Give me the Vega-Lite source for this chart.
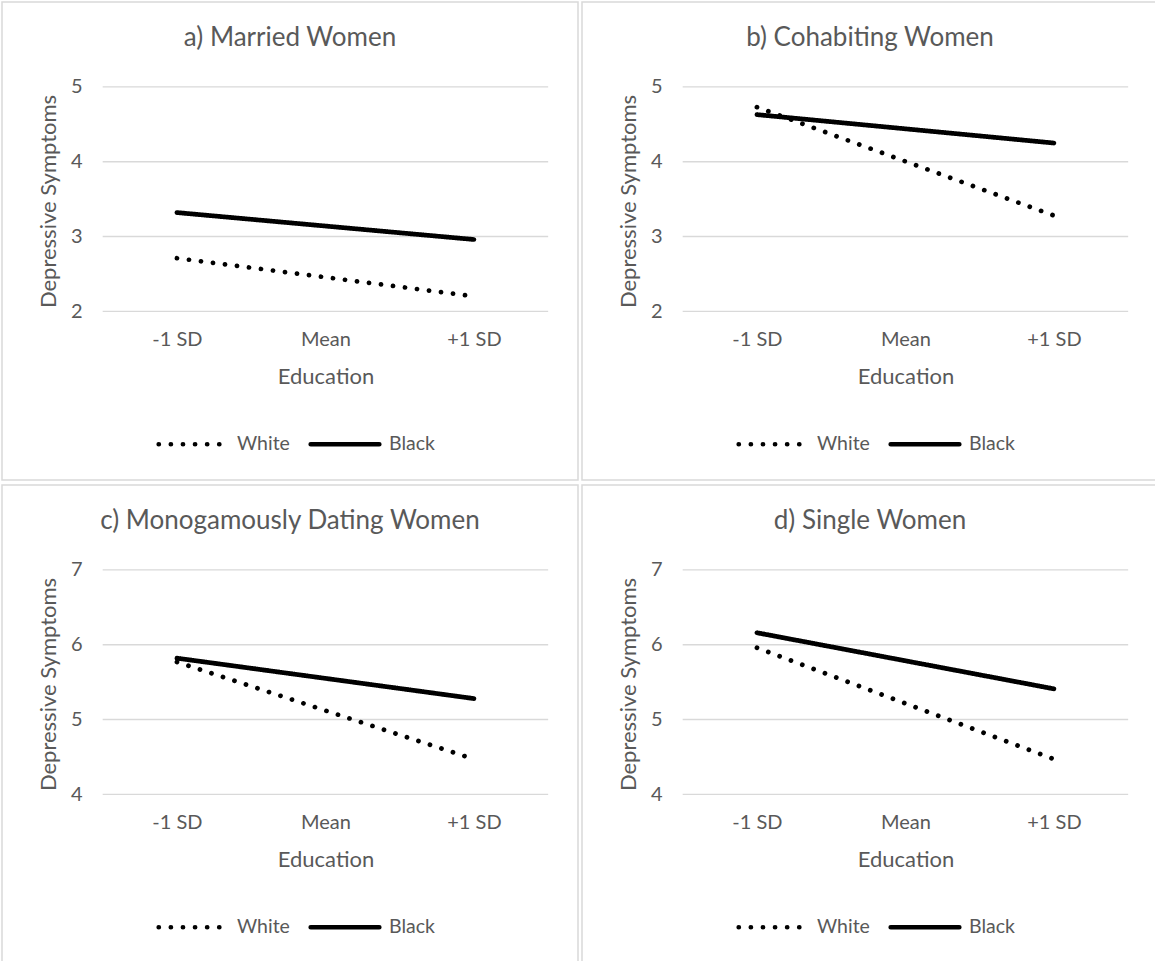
{
  "$schema": "https://vega.github.io/schema/vega-lite/v6.json",
  "background": "white",
  "padding": {"left": 1, "top": 1, "right": 0, "bottom": 0},
  "datasets": {
    "lines": [
      {"panel": "a", "edu": -1, "race": "White", "value": 2.71},
      {"panel": "a", "edu": 1, "race": "White", "value": 2.2},
      {"panel": "a", "edu": -1, "race": "Black", "value": 3.32},
      {"panel": "a", "edu": 1, "race": "Black", "value": 2.96},
      {"panel": "b", "edu": -1, "race": "White", "value": 4.73},
      {"panel": "b", "edu": 1, "race": "White", "value": 3.28},
      {"panel": "b", "edu": -1, "race": "Black", "value": 4.63},
      {"panel": "b", "edu": 1, "race": "Black", "value": 4.25},
      {"panel": "c", "edu": -1, "race": "White", "value": 5.77},
      {"panel": "c", "edu": 1, "race": "White", "value": 4.47},
      {"panel": "c", "edu": -1, "race": "Black", "value": 5.82},
      {"panel": "c", "edu": 1, "race": "Black", "value": 5.28},
      {"panel": "d", "edu": -1, "race": "White", "value": 5.96},
      {"panel": "d", "edu": 1, "race": "White", "value": 4.47},
      {"panel": "d", "edu": -1, "race": "Black", "value": 6.16},
      {"panel": "d", "edu": 1, "race": "Black", "value": 5.41}
    ],
    "grid": [
      {"panel": "a", "v": 2}, {"panel": "a", "v": 3}, {"panel": "a", "v": 4}, {"panel": "a", "v": 5},
      {"panel": "b", "v": 2}, {"panel": "b", "v": 3}, {"panel": "b", "v": 4}, {"panel": "b", "v": 5},
      {"panel": "c", "v": 4}, {"panel": "c", "v": 5}, {"panel": "c", "v": 6}, {"panel": "c", "v": 7},
      {"panel": "d", "v": 4}, {"panel": "d", "v": 5}, {"panel": "d", "v": 6}, {"panel": "d", "v": 7}
    ]
  },
  "spacing": 3,
  "resolve": {"scale": {"strokeDash": "independent", "y": "independent", "x": "independent"}, "legend": {"strokeDash": "independent"}},
  "vconcat": [
    {
      "spacing": 2,
      "resolve": {"scale": {"strokeDash": "independent", "y": "independent", "x": "independent"}, "legend": {"strokeDash": "independent"}},
      "hconcat": [
        {
          "title": "a) Married Women",
          "width": 576,
          "height": 478,
          "layer": [
            {
              "data": {"name": "grid"},
              "transform": [{"filter": "datum.panel == 'a'"}],
              "mark": {"type": "rule", "color": "#d9d9d9", "strokeWidth": 1.3},
              "encoding": {
                "x": {"datum": -1.5, "type": "quantitative", "title": "Education",
                      "scale": {"domain": [-2.178, 1.701], "nice": false, "zero": false},
                      "axis": {"orient": "bottom", "offset": -168, "values": [-1, 0, 1], "labelExpr": "datum.value == -1 ? '-1 SD' : datum.value == 0 ? 'Mean' : '+1 SD'", "labelPadding": 17, "titleX": 323.5, "titleY": 64, "titleAlign": "center", "titleBaseline": "middle"}},
                "x2": {"datum": 1.5},
                "y": {"field": "v", "type": "quantitative", "title": "Depressive Symptoms",
                      "scale": {"domain": [-0.256, 6.136], "nice": false, "zero": false},
                      "axis": {"orient": "left", "offset": -101, "values": [2, 3, 4, 5], "format": "d", "labelPadding": 21, "titleX": -55, "titleY": 199, "titleAlign": "center", "titleBaseline": "middle", "titleAngle": 270}}
              }
            },
            {
              "data": {"name": "lines"},
              "transform": [{"filter": "datum.panel == 'a'"}],
              "mark": {"type": "line", "strokeWidth": 4.7, "strokeCap": "round", "color": "black"},
              "encoding": {
                "x": {"field": "edu", "type": "quantitative", "title": "Education"},
                "y": {"field": "value", "type": "quantitative", "title": "Depressive Symptoms"},
                "strokeDash": {"field": "race", "type": "nominal",
                               "scale": {"domain": ["White", "Black"], "range": [[0.1, 12], [1, 0]]},
                               "legend": {"encode": {"symbols": {"update": {"strokeCap": {"value": "round"}}}}}}
              }
            }
          ]
        },
        {
          "title": "b) Cohabiting Women",
          "width": 576,
          "height": 478,
          "layer": [
            {
              "data": {"name": "grid"},
              "transform": [{"filter": "datum.panel == 'b'"}],
              "mark": {"type": "rule", "color": "#d9d9d9", "strokeWidth": 1.3},
              "encoding": {
                "x": {"datum": -1.5, "type": "quantitative", "title": "Education",
                      "scale": {"domain": [-2.178, 1.701], "nice": false, "zero": false},
                      "axis": {"orient": "bottom", "offset": -168, "values": [-1, 0, 1], "labelExpr": "datum.value == -1 ? '-1 SD' : datum.value == 0 ? 'Mean' : '+1 SD'", "labelPadding": 17, "titleX": 323.5, "titleY": 64, "titleAlign": "center", "titleBaseline": "middle"}},
                "x2": {"datum": 1.5},
                "y": {"field": "v", "type": "quantitative", "title": "Depressive Symptoms",
                      "scale": {"domain": [-0.256, 6.136], "nice": false, "zero": false},
                      "axis": {"orient": "left", "offset": -101, "values": [2, 3, 4, 5], "format": "d", "labelPadding": 21, "titleX": -55, "titleY": 199, "titleAlign": "center", "titleBaseline": "middle", "titleAngle": 270}}
              }
            },
            {
              "data": {"name": "lines"},
              "transform": [{"filter": "datum.panel == 'b'"}],
              "mark": {"type": "line", "strokeWidth": 4.7, "strokeCap": "round", "color": "black"},
              "encoding": {
                "x": {"field": "edu", "type": "quantitative", "title": "Education"},
                "y": {"field": "value", "type": "quantitative", "title": "Depressive Symptoms"},
                "strokeDash": {"field": "race", "type": "nominal",
                               "scale": {"domain": ["White", "Black"], "range": [[0.1, 12], [1, 0]]},
                               "legend": {"encode": {"symbols": {"update": {"strokeCap": {"value": "round"}}}}}}
              }
            }
          ]
        }
      ]
    },
    {
      "spacing": 2,
      "resolve": {"scale": {"strokeDash": "independent", "y": "independent", "x": "independent"}, "legend": {"strokeDash": "independent"}},
      "hconcat": [
        {
          "title": "c) Monogamously Dating Women",
          "width": 576,
          "height": 478,
          "layer": [
            {
              "data": {"name": "grid"},
              "transform": [{"filter": "datum.panel == 'c'"}],
              "mark": {"type": "rule", "color": "#d9d9d9", "strokeWidth": 1.3},
              "encoding": {
                "x": {"datum": -1.5, "type": "quantitative", "title": "Education",
                      "scale": {"domain": [-2.178, 1.701], "nice": false, "zero": false},
                      "axis": {"orient": "bottom", "offset": -168, "values": [-1, 0, 1], "labelExpr": "datum.value == -1 ? '-1 SD' : datum.value == 0 ? 'Mean' : '+1 SD'", "labelPadding": 17, "titleX": 323.5, "titleY": 64, "titleAlign": "center", "titleBaseline": "middle"}},
                "x2": {"datum": 1.5},
                "y": {"field": "v", "type": "quantitative", "title": "Depressive Symptoms",
                      "scale": {"domain": [1.744, 8.136], "nice": false, "zero": false},
                      "axis": {"orient": "left", "offset": -101, "values": [4, 5, 6, 7], "format": "d", "labelPadding": 21, "titleX": -55, "titleY": 199, "titleAlign": "center", "titleBaseline": "middle", "titleAngle": 270}}
              }
            },
            {
              "data": {"name": "lines"},
              "transform": [{"filter": "datum.panel == 'c'"}],
              "mark": {"type": "line", "strokeWidth": 4.7, "strokeCap": "round", "color": "black"},
              "encoding": {
                "x": {"field": "edu", "type": "quantitative", "title": "Education"},
                "y": {"field": "value", "type": "quantitative", "title": "Depressive Symptoms"},
                "strokeDash": {"field": "race", "type": "nominal",
                               "scale": {"domain": ["White", "Black"], "range": [[0.1, 12], [1, 0]]},
                               "legend": {"encode": {"symbols": {"update": {"strokeCap": {"value": "round"}}}}}}
              }
            }
          ]
        },
        {
          "title": "d) Single Women",
          "width": 576,
          "height": 478,
          "layer": [
            {
              "data": {"name": "grid"},
              "transform": [{"filter": "datum.panel == 'd'"}],
              "mark": {"type": "rule", "color": "#d9d9d9", "strokeWidth": 1.3},
              "encoding": {
                "x": {"datum": -1.5, "type": "quantitative", "title": "Education",
                      "scale": {"domain": [-2.178, 1.701], "nice": false, "zero": false},
                      "axis": {"orient": "bottom", "offset": -168, "values": [-1, 0, 1], "labelExpr": "datum.value == -1 ? '-1 SD' : datum.value == 0 ? 'Mean' : '+1 SD'", "labelPadding": 17, "titleX": 323.5, "titleY": 64, "titleAlign": "center", "titleBaseline": "middle"}},
                "x2": {"datum": 1.5},
                "y": {"field": "v", "type": "quantitative", "title": "Depressive Symptoms",
                      "scale": {"domain": [1.744, 8.136], "nice": false, "zero": false},
                      "axis": {"orient": "left", "offset": -101, "values": [4, 5, 6, 7], "format": "d", "labelPadding": 21, "titleX": -55, "titleY": 199, "titleAlign": "center", "titleBaseline": "middle", "titleAngle": 270}}
              }
            },
            {
              "data": {"name": "lines"},
              "transform": [{"filter": "datum.panel == 'd'"}],
              "mark": {"type": "line", "strokeWidth": 4.7, "strokeCap": "round", "color": "black"},
              "encoding": {
                "x": {"field": "edu", "type": "quantitative", "title": "Education"},
                "y": {"field": "value", "type": "quantitative", "title": "Depressive Symptoms"},
                "strokeDash": {"field": "race", "type": "nominal",
                               "scale": {"domain": ["White", "Black"], "range": [[0.1, 12], [1, 0]]},
                               "legend": {"encode": {"symbols": {"update": {"strokeCap": {"value": "round"}}}}}}
              }
            }
          ]
        }
      ]
    }
  ],
  "config": {
    "font": "Lato",
    "view": {"stroke": "#d9d9d9", "strokeWidth": 1.5},
    "title": {"fontSize": 26, "fontWeight": "normal", "color": "#595959", "anchor": "middle", "frame": "group", "offset": -49, "baseline": "middle"},
    "axis": {"domain": false, "ticks": false, "grid": false, "labelFontSize": 20, "labelColor": "#595959", "titleFontSize": 22, "titleFontWeight": "normal", "titleColor": "#595959"},
    "legend": {
      "orient": "none", "legendX": 154, "legendY": 405, "direction": "horizontal", "title": null,
      "symbolType": "stroke", "symbolSize": 4700, "symbolStrokeWidth": 4.7, "symbolStrokeColor": "black",
      "labelFontSize": 19.5, "labelColor": "#595959", "labelOffset": 7, "columnPadding": 11
    }
  }
}
